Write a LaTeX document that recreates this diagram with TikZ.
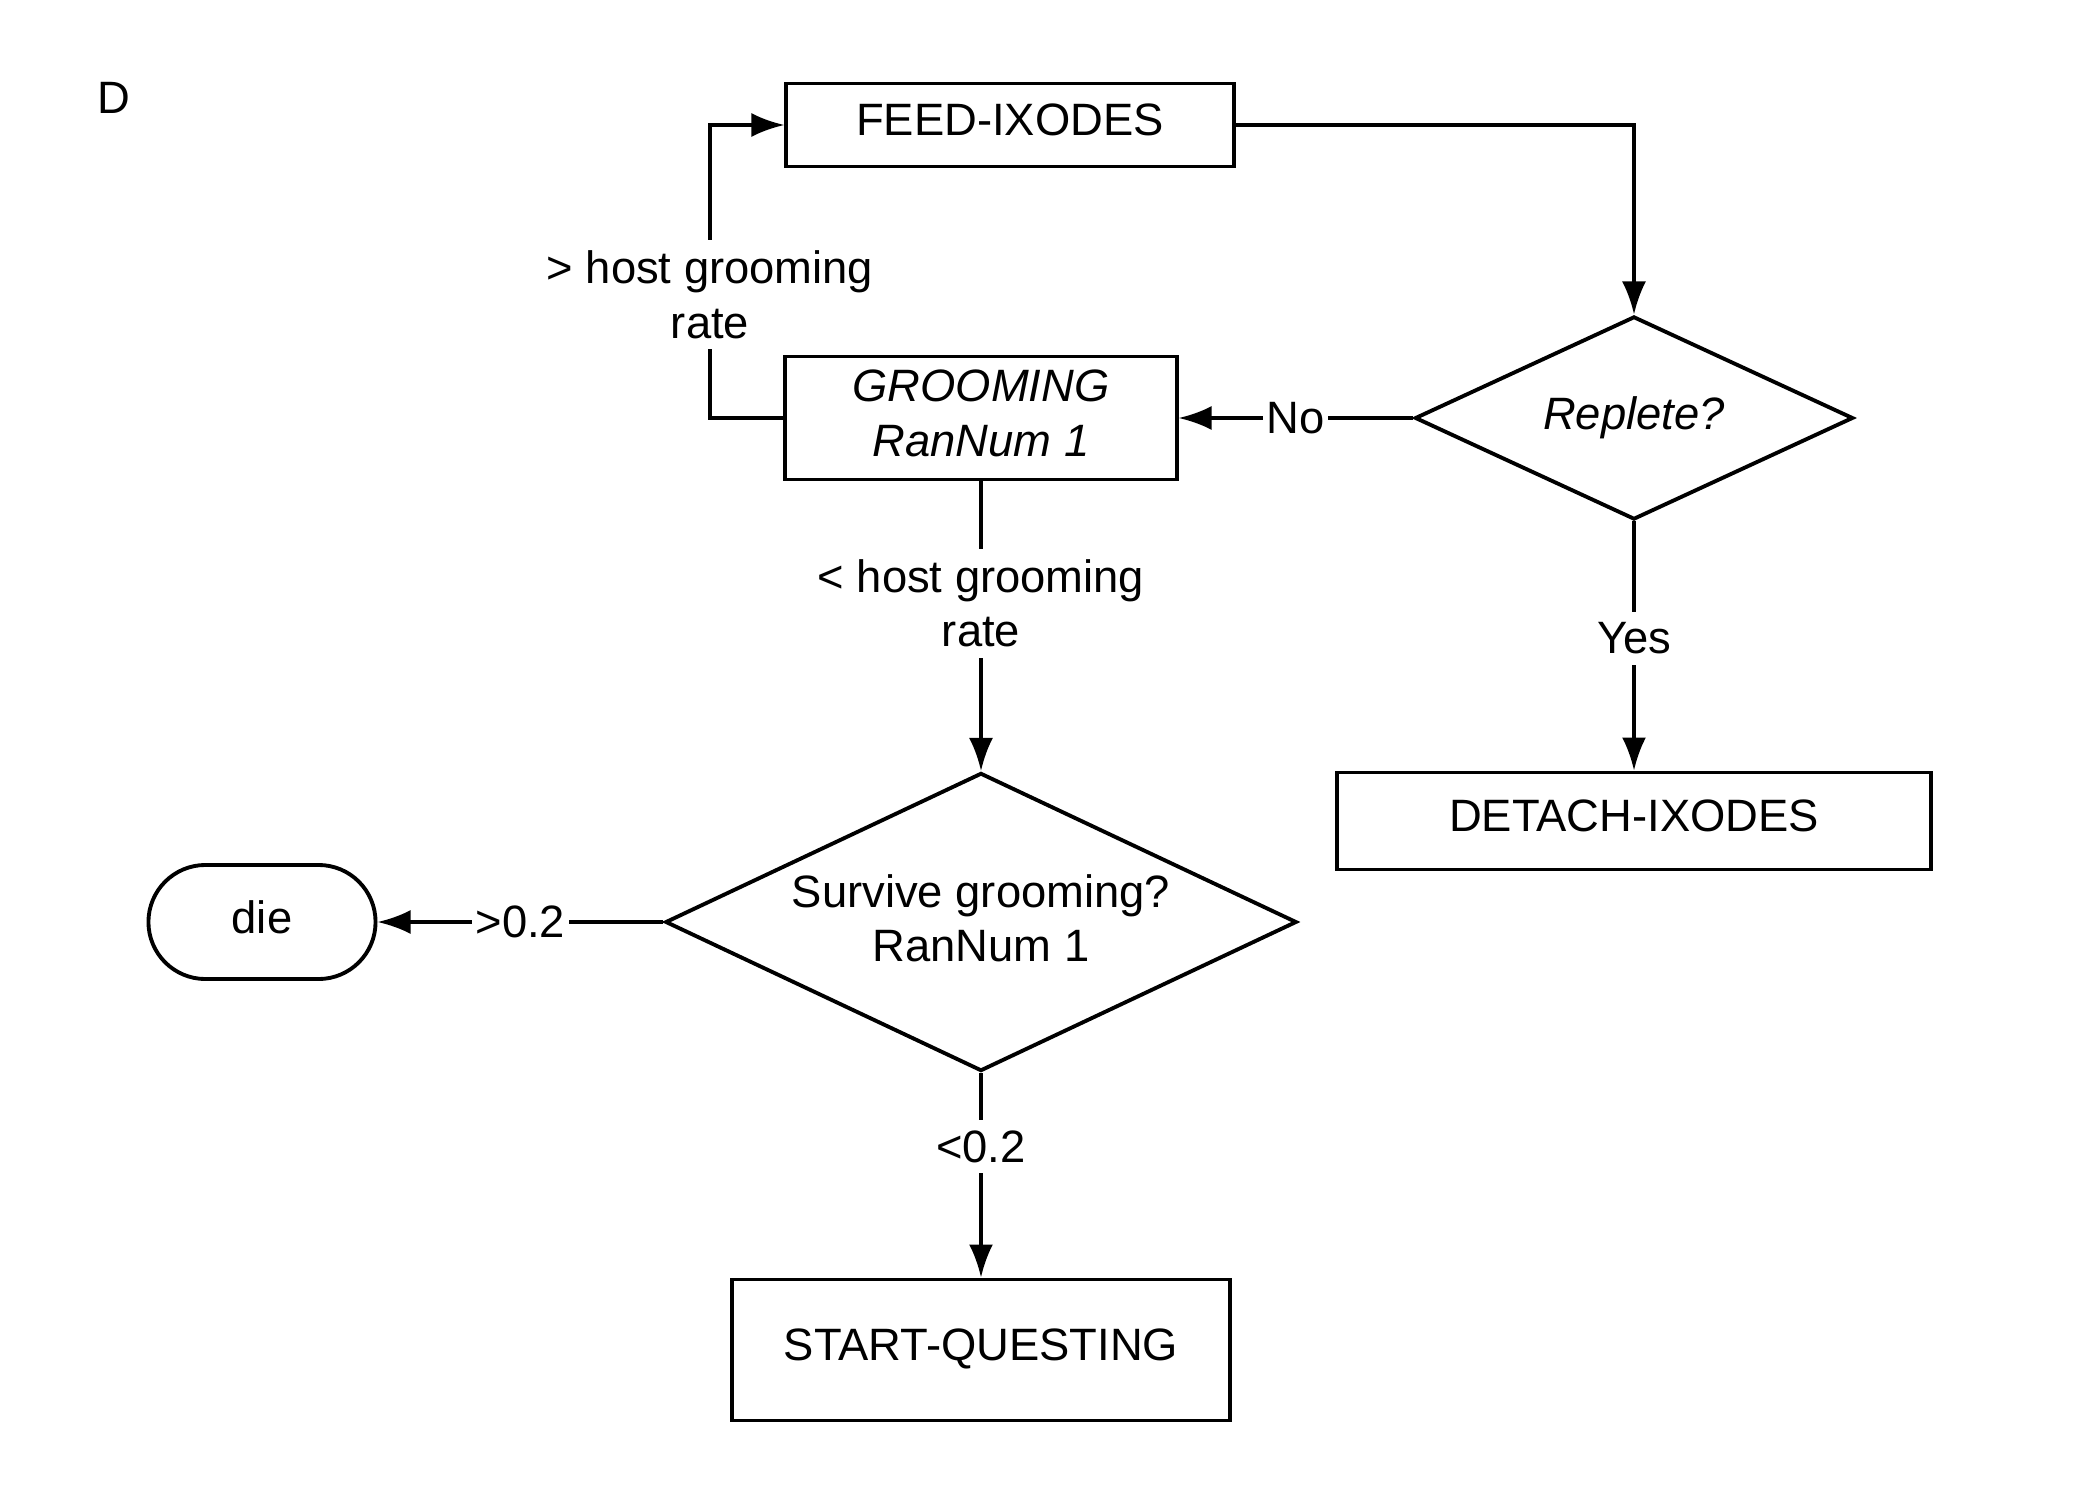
\documentclass[tikz,border=0pt]{standalone}
\usepackage{fontspec}
\setmainfont{Liberation Sans}
\usetikzlibrary{shapes.geometric,arrows.meta}
\tikzset{
  stepbox/.style={draw,line width=1.1pt,align=center,inner sep=0pt,text depth=0.1cm},
  choice/.style={diamond,draw,line width=1.1pt,align=center,inner sep=0pt,aspect=2.15},
  lbl/.style={fill=white,align=center,inner sep=1pt},
  arr/.style={-{Latex[length=3.3mm,width=2.4mm]}},
}
\begin{document}
\begin{tikzpicture}[x=0.01cm,y=-0.01cm,font=\fontsize{12.9}{15.5}\selectfont,line width=1pt]
\useasboundingbox (0,0) rectangle (2100,1500);
\node (tagD) at (114,98) {D};
%
\node[stepbox,minimum width=4.47cm,minimum height=0.83cm] (feed) at (1010,125) {FEED-IXODES};
\node[stepbox,minimum width=3.91cm,minimum height=1.23cm] (groom) at (981,418) {\textit{GROOMING}\\\textit{RanNum 1}};
\node[choice,minimum width=4.38cm,minimum height=2.03cm] (rep) at (1634,418) {\textit{Replete?}};
\node[stepbox,minimum width=5.93cm,minimum height=0.97cm] (detach) at (1634,821) {DETACH-IXODES};
\node[choice,text depth=0.08cm,minimum width=6.31cm,minimum height=2.98cm] (surv) at (981,922) {Survive grooming?\\RanNum 1};
\node[stepbox,rounded corners=0.57cm,minimum width=2.27cm,minimum height=1.14cm] (die) at (262,922) {die};
\node[stepbox,minimum width=4.97cm,minimum height=1.41cm] (start) at (981,1350) {START-QUESTING};
%
\draw[arr] (feed.east) -| (rep.north);
\draw[arr] (rep.west) -- node[lbl]{No} (groom.east);
\draw[arr] (rep.south) -- node[lbl,inner sep=3pt,pos=0.47]{Yes} (detach.north);
%
\coordinate (loop) at (710,418);
\draw[arr] (groom.west) -- (loop) |- node[lbl,inner sep=3pt,pos=0.21]{> host grooming\\rate} (feed.west);
\draw[arr] (groom.south) -- node[lbl,inner sep=3pt,pos=0.42]{< host grooming\\rate} (surv.north);
%
\draw[arr] (surv.west) -- node[lbl]{>0.2} (die.east);
\draw[arr] (surv.south) -- node[lbl,inner sep=3pt,pos=0.36]{<0.2} (start.north);
\end{tikzpicture}
\end{document}
